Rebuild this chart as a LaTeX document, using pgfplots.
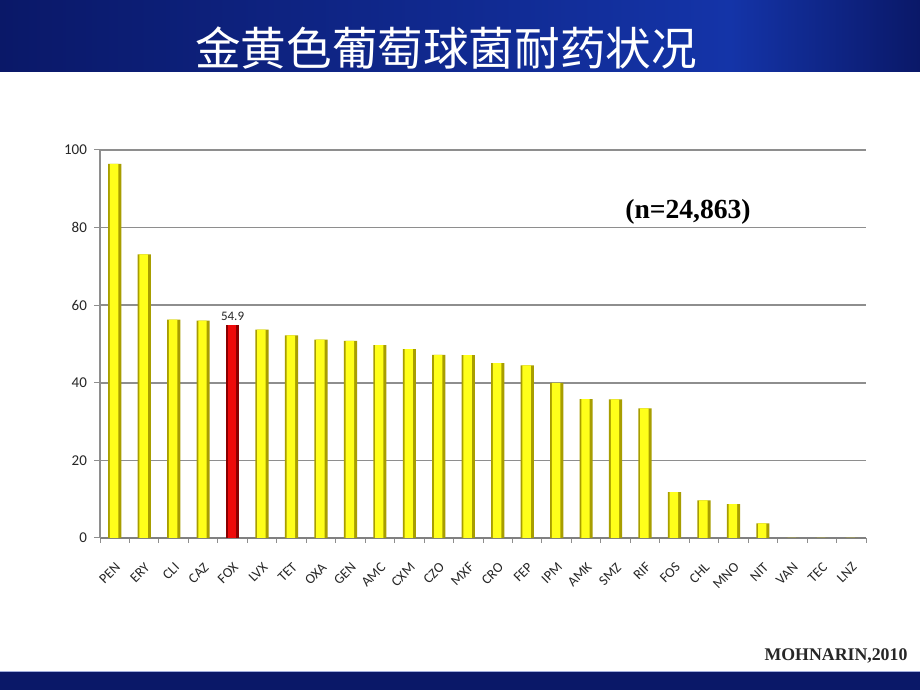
\documentclass[border=0pt]{standalone}
\usepackage{pgfplots}
\pgfplotsset{compat=1.18}
\usepackage{fontspec}
\setmainfont{Carlito}
\newfontfamily\cjk{Noto Sans CJK SC}
\newfontfamily\tnr{Liberation Serif}

\definecolor{navy}{HTML}{0A1868}
\definecolor{navyhi}{HTML}{1434A8}
\definecolor{bary}{HTML}{FFFF1A}
\definecolor{baredge}{HTML}{A89E00}
\definecolor{barr}{HTML}{EE0A0A}
\definecolor{barredge}{HTML}{8A0000}
\definecolor{gridg}{HTML}{8E8E8E}

% values
\pgfplotstableread{
x  y
0  96.4
1  73.1
2  56.3
3  56.0
5  53.7
6  52.2
7  51.1
8  50.8
9  49.7
10 48.7
11 47.2
12 47.1
13 45.1
14 44.5
15 40.0
16 35.8
17 35.7
18 33.4
19 11.8
20 9.7
21 8.7
22 3.8
23 0
24 0
25 0
}\yellowdata
\pgfplotstableread{
x y
4 54.9
}\reddata

\begin{document}
\begin{tikzpicture}
% slide frame: 920x690 px, 1px = 0.5pt
\path[use as bounding box] (0,0) rectangle (460pt,345pt);
\fill[white] (0,0) rectangle (460pt,345pt);
% header band
\shade[left color=navy, right color=navyhi] (0,309pt) rectangle (365pt,345pt);
\shade[left color=navyhi, right color=navy] (365pt,309pt) rectangle (460pt,345pt);
\node[text=white, font=\cjk\fontsize{22.8pt}{26pt}\selectfont] at (223pt,321pt) {金黄色葡萄球菌耐药状况};
% footer band
\fill[navy] (0,0) rectangle (460pt,9pt);
\draw[navyhi!40, line width=0.6pt] (0,9.2pt) -- (460pt,9.2pt);

\begin{axis}[
  at={(50pt,76pt)}, anchor=south west,
  scale only axis, width=383pt, height=194pt,
  xmin=-0.5, xmax=25.5, ymin=0, ymax=100,
  axis x line*=bottom, axis y line*=left,
  ytick={0,20,...,100},
  xtick={0,...,25},
  xticklabels={PEN,ERY,CLI,CAZ,FOX,LVX,TET,OXA,GEN,AMC,CXM,CZO,MXF,CRO,FEP,IPM,AMK,SMZ,RIF,FOS,CHL,MNO,NIT,VAN,TEC,LNZ},
  major x tick style={draw=none},
  minor xtick={-0.5,0.5,1.5,2.5,3.5,4.5,5.5,6.5,7.5,8.5,9.5,10.5,11.5,12.5,13.5,14.5,15.5,16.5,17.5,18.5,19.5,20.5,21.5,22.5,23.5,24.5,25.5},
  ymajorgrids, grid style={gridg, line width=0.8pt},
  tick align=outside, tick style={gridg, line width=0.5pt},
  major tick length=3pt, minor tick length=2.5pt,
  x axis line style={gridg!90!black, line width=1.4pt},
  y axis line style={gridg, line width=0.6pt},
  xticklabel shift=8pt,
  x tick label style={rotate=45, anchor=north east, inner sep=0.5pt, font=\fontsize{7pt}{8pt}\selectfont, text=black!85},
  y tick label style={font=\fontsize{7.5pt}{9pt}\selectfont, text=black!85},
  /pgf/number format/assume math mode=true,
]
% darker rim, then bright core: a rough cylinder look
\addplot[ybar, bar width=6.6pt, bar shift=0pt, draw=none, fill=baredge] table[x=x,y=y] {\yellowdata};
\addplot[ybar, bar width=4.2pt, bar shift=-0.3pt, draw=none, fill=bary] table[x=x,y=y] {\yellowdata};
\addplot[ybar, bar width=6.6pt, bar shift=0pt, draw=none, fill=barredge,
  nodes near coords,
  nodes near coords style={font=\fontsize{6.5pt}{7pt}\selectfont, text=black!85, inner sep=2pt}]
  table[x=x,y=y] {\reddata};
\addplot[ybar, bar width=4.2pt, bar shift=-0.3pt, draw=none, fill=barr] table[x=x,y=y] {\reddata};
\end{axis}

\node[font=\tnr\bfseries\fontsize{13.8pt}{16pt}\selectfont] at (344pt,239pt) {(n=24,863)};
\node[font=\tnr\bfseries\fontsize{8.9pt}{10pt}\selectfont, text=black!85] at (418pt,17pt) {MOHNARIN,2010};
\end{tikzpicture}
\end{document}
